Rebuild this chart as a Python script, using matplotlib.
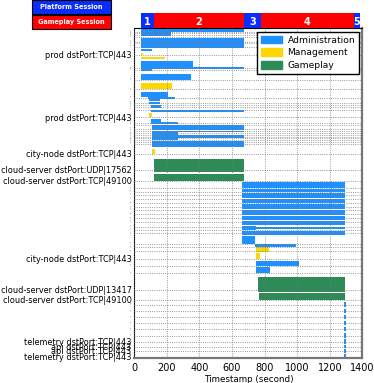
import matplotlib
matplotlib.use("Agg")
import matplotlib.pyplot as plt
from matplotlib.patches import Rectangle, Patch

# --- data: rows (y position from top of the axes, label) ---
row_pos = [31.7, 33.3, 35, 36.7, 41.7, 43.3, 46.7, 55, 68.3, 70, 80, 89.3, 97.7,
           103, 105, 106.7, 110, 117.3, 122.7, 125,
           129, 131, 133.3, 135, 136.7, 138.3, 140, 141.7, 144,
           153.7, 170, 180.7,
           188.3, 191.7, 195, 199, 202.7, 207.3, 210, 214.3, 218.3, 221.7, 226.7, 230, 233.3,
           244, 247.3, 251.3, 259, 265.7, 273.3, 290, 300,
           304.7, 311.3, 317.3, 323.3, 329.3, 335.7, 341.7, 346.7, 351, 356.7]
row_labels = {55: "prod dstPort:TCP|443", 117.3: "prod dstPort:TCP|443",
              153.7: "city-node dstPort:TCP|443",
              170: "cloud-server dstPort:UDP|17562", 180.7: "cloud-server dstPort:TCP|49100",
              259: "city-node dstPort:TCP|443",
              290: "cloud-server dstPort:UDP|13417", 300: "cloud-server dstPort:TCP|49100",
              341.7: "telemetry dstPort:TCP|443", 346.7: "api dstPort:TCP|443",
              351: "api dstPort:TCP|443", 356.7: "telemetry dstPort:TCP|443"}

# flows: (start s, end s, row top, row bottom)
admin = [(40, 672, 29.5, 32.3), (40, 228, 32.3, 36.5), (40, 672, 37.7, 40.7),
         (40, 672, 40.9, 43.3), (40, 672, 43.5, 45.7), (40, 672, 45.9, 48.5),
         (40, 106, 49, 51.5), (40, 360, 61.3, 66.7), (40, 672, 67.5, 69.5),
         (40, 106, 66.7, 71), (40, 349, 74, 80.3), (40, 207, 91.7, 97.3),
         (85, 250, 97, 98.6), (92, 155, 99.3, 101.5), (92, 160, 102, 104.5),
         (100, 162, 105, 108), (100, 672, 110, 112), (100, 162, 119, 122.3),
         (100, 267, 122.3, 124.5), (106, 672, 124.7, 130), (106, 672, 131, 132.5),
         (106, 267, 132.5, 135), (106, 672, 135.3, 138), (106, 267, 138.3, 140.4),
         (106, 672, 140.7, 146.7),
         (663, 1291, 182.3, 188), (663, 1291, 189, 192.5), (663, 1291, 193.5, 198),
         (663, 1291, 199, 203), (663, 1291, 204, 209), (663, 1291, 210, 215),
         (663, 1291, 215.8, 220), (663, 1291, 221, 225), (663, 749, 226, 230.5),
         (663, 1291, 227.3, 229.3), (663, 1291, 230.8, 235), (663, 743, 236, 244),
         (743, 990, 244, 246.7), (746, 1008, 261.3, 266), (746, 834, 267.3, 273.3),
         (1285, 1298, 302.5, 307), (1285, 1298, 309, 313.5), (1285, 1298, 315, 319.5),
         (1285, 1298, 321, 325.5), (1285, 1298, 327, 331.5), (1285, 1298, 333.5, 338),
         (1285, 1298, 339.5, 344), (1285, 1298, 345, 348.5), (1285, 1298, 349.5, 353),
         (1285, 1298, 354.5, 358.5)]
management = [(40, 55, 52.7, 55), (41, 188, 57, 59.3), (42, 232, 83, 89.3),
              (92, 106, 113.3, 117.3), (106, 129, 149, 154.3),
              (746, 826, 247.3, 252), (746, 769, 253.3, 259.3)]
gameplay = [(121, 672, 159, 171.7), (121, 672, 174.5, 181),
            (759, 1291, 277.3, 291.7), (764, 1291, 293.3, 300)]

sessions = [(41, 122, "1", "#0a2cff"), (122, 673, "2", "#ff0000"), (673, 777, "3", "#0a2cff"),
            (777, 1346, "4", "#ff0000"), (1346, 1383, "5", "#0a2cff")]

x_ticks = [0, 200, 400, 600, 800, 1000, 1200, 1400]

C_ADMIN = "#1e90ff"
C_MGMT = "#ffd700"
C_GAME = "#2e8b57"

fig = plt.figure(figsize=(3.74, 3.83), dpi=100)
ax = fig.add_axes([0.359, 0.064, 0.610, 0.8616])

for flows, color in ((admin, C_ADMIN), (management, C_MGMT), (gameplay, C_GAME)):
    for t0, t1, y0, y1 in flows:
        ax.broken_barh([(t0, t1 - t0)], (y0, y1 - y0), facecolors=color, edgecolor="none")

ax.set_xlim(0, 1400)
ax.set_ylim(358.5, 28.5)
ax.set_xticks(x_ticks)
ax.tick_params(axis="x", labelsize=7, length=0, pad=3)
ax.set_yticks(row_pos)
ax.set_yticklabels([row_labels.get(p, "'") for p in row_pos])
for p, lab in zip(row_pos, ax.get_yticklabels()):
    if p in row_labels:
        lab.set_fontsize(5.85)
    else:
        # unnamed flows: tiny grey marks
        lab.set_fontsize(4)
        lab.set_color("#888888")
ax.tick_params(axis="y", length=0, pad=2)
ax.set_xlabel("Timestamp (second)", fontsize=6.3, labelpad=2)
ax.grid(True, linestyle=":", color="#777777", linewidth=0.6)
ax.set_axisbelow(False)
for side in ("right", "bottom"):
    ax.spines[side].set_color("#777777")
    ax.spines[side].set_linewidth(1.6)

handles = [Patch(color=C_ADMIN, label="Administration"),
           Patch(color=C_MGMT, label="Management"),
           Patch(color=C_GAME, label="Gameplay")]
leg = ax.legend(handles=handles, loc="upper right", bbox_to_anchor=(0.985, 0.989),
                borderaxespad=0, fontsize=6.6, fancybox=False, framealpha=1,
                edgecolor="black", handlelength=2.3, handleheight=0.9, borderpad=0.4,
                labelspacing=0.4, handletextpad=0.6)
leg.get_frame().set_linewidth(1.0)

# session strip above the chart
sax = fig.add_axes([0.359, 0.9256, 0.610, 0.0405])
for t0, t1, name, color in sessions:
    sax.broken_barh([(t0, t1 - t0)], (0, 1), facecolors=color, edgecolor="none")
    sax.text((t0 + t1) / 2, 0.45, name, color="white", fontsize=7, fontweight="bold",
             ha="center", va="center")
sax.set_xlim(0, 1400)
sax.set_ylim(0, 1)
sax.axis("off")

# session legend boxes (top left)
for y0, text, color in ((0.963, "Platform Session", "#0a2cff"),
                        (0.924, "Gameplay Session", "#ff0000")):
    fig.patches.append(Rectangle((0.086, y0), 0.211, 0.037, transform=fig.transFigure,
                                 facecolor=color, edgecolor="black", linewidth=0.8))
    fig.text(0.1915, y0 + 0.0185, text, color="white", fontsize=4.7, fontweight="bold",
             ha="center", va="center")

plt.savefig("out.png", dpi=100)
